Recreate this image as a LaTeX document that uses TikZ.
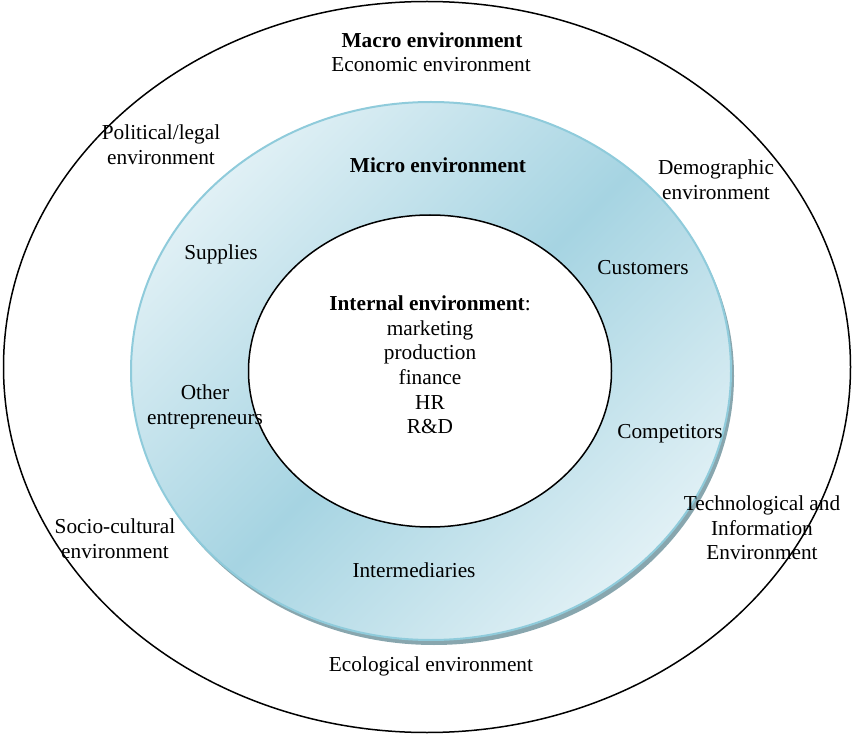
\documentclass[tikz,border=0pt]{standalone}
\usepackage{fontspec}
\setmainfont{Liberation Serif}
\definecolor{ringlight}{HTML}{E0F0F5}
\definecolor{ringdark}{HTML}{A6D4E2}
\definecolor{ringedge}{HTML}{8FCBDB}
\definecolor{ringshadow}{HTML}{88A6AE}
\begin{document}
\begin{tikzpicture}[x=1pt,y=-1pt,
  txt/.style={font=\fontsize{21.3}{24.6}\selectfont, align=center, inner sep=0pt},
  bold/.style={txt, font=\fontsize{21.3}{24.6}\selectfont\bfseries}]
\useasboundingbox (0,0) rectangle (852,735);
% outer (macro) ellipse
\draw[line width=1.5pt] (427,367) ellipse [x radius=423.5pt, y radius=365.5pt];
% shadow of micro ring
\fill[ringshadow] (434,376) ellipse [x radius=300pt, y radius=269pt];
% micro ring
\shade[left color=ringlight, right color=ringlight, middle color=ringdark, shading angle=45]
  (431,371) ellipse [x radius=300pt, y radius=269pt];
\draw[ringedge, line width=2pt] (431,371) ellipse [x radius=300pt, y radius=269pt];
% inner ellipse
\draw[fill=white, line width=1.5pt] (430,371) ellipse [x radius=181.5pt, y radius=156pt];
% texts
\node[bold] (macro) at (432,40) {Macro environment};
\node[txt] (economic) at (431,65) {Economic environment};
\node[txt] (political) at (161,145) {Political/legal\\environment};
\node[bold] (micro) at (438,165) {Micro environment};
\node[txt] (demographic) at (716,180) {Demographic\\environment};
\node[txt] (supplies) at (221,254) {Supplies};
\node[txt] (customers) at (643,268) {Customers};
\node[txt] (internal) at (430,365) {\textbf{Internal environment}:\\marketing\\production\\finance\\HR\\R\&D};
\node[txt] (other) at (205,407) {Other\\entrepreneurs};
\node[txt] (competitors) at (670,434) {Competitors};
\node[txt] (techno) at (762,528) {Technological and\\Information\\Environment};
\node[txt] (socio) at (115,539) {Socio-cultural\\environment};
\node[txt] (intermediaries) at (414,570) {Intermediaries};
\node[txt] (ecological) at (431,666) {Ecological environment};
\end{tikzpicture}
\end{document}
